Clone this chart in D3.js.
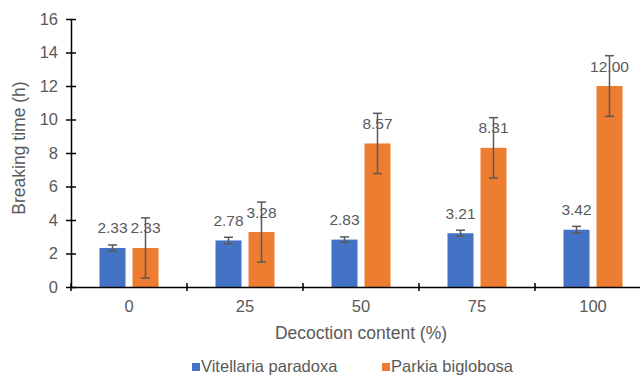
<!DOCTYPE html>
<html>
<head>
<meta charset="utf-8">
<script src="https://cdn.jsdelivr.net/npm/d3@7"></script>
<style>
  html, body { margin: 0; padding: 0; background: #fff; }
  svg { display: block; font-family: "Liberation Sans", Arial, sans-serif; }
</style>
</head>
<body>
<svg id="chart" width="640" height="375"></svg>
<script>
// Decoction content (%) categories
const categories = ["0", "25", "50", "75", "100"];
const seriesNames = ["Vitellaria paradoxa", "Parkia biglobosa"];
// Mean breaking time (h)
const vitellaria = [2.33, 2.78, 2.83, 3.21, 3.42];
const parkia = [2.33, 3.28, 8.57, 8.31, 12.00];
// Error bar half-widths (h)
const vitellariaErr = [0.18, 0.19, 0.16, 0.18, 0.20];
const parkiaErr = [1.80, 1.79, 1.80, 1.80, 1.81];
const yTicks = [0, 2, 4, 6, 8, 10, 12, 14, 16];
const colors = ["#4472C4", "#ED7D31"];

const svg = d3.select("#chart");
const textColor = "#595959";
const fontFamily = "Liberation Sans, Arial, sans-serif";

const x0 = d3.scaleBand().domain(categories).range([71, 651]).paddingInner(0).paddingOuter(0);
const y = d3.scaleLinear().domain([0, 16]).range([287, 19]);

const barW = 26, gap = 7;

const rows = categories.map((c, i) => ({
  cat: c,
  items: [
    { s: 0, v: vitellaria[i], e: vitellariaErr[i] },
    { s: 1, v: parkia[i], e: parkiaErr[i] }
  ]
}));

function barX(cat, s) {
  const center = x0(cat) + x0.bandwidth() / 2;
  return s === 0 ? center - gap / 2 - barW : center + gap / 2;
}

// bars
const g = svg.append("g");
rows.forEach(r => {
  r.items.forEach(d => {
    g.append("rect")
      .attr("x", barX(r.cat, d.s))
      .attr("y", y(d.v))
      .attr("width", barW)
      .attr("height", y(0) - y(d.v))
      .attr("fill", colors[d.s]);
  });
});

// value labels
rows.forEach(r => {
  r.items.forEach(d => {
    g.append("text")
      .attr("x", barX(r.cat, d.s) + barW / 2)
      .attr("y", y(d.v) - 14.5)
      .attr("text-anchor", "middle")
      .attr("fill", textColor)
      .attr("font-size", 15.5)
      .text(d.v.toFixed(2));
  });
});

// error bars
rows.forEach(r => {
  r.items.forEach(d => {
    const cx = barX(r.cat, d.s) + barW / 2;
    const top = y(d.v + d.e), bot = y(d.v - d.e);
    const eg = g.append("g").attr("stroke", "#595959").attr("stroke-width", 1.5);
    eg.append("line").attr("x1", cx).attr("x2", cx).attr("y1", top).attr("y2", bot);
    eg.append("line").attr("x1", cx - 4.5).attr("x2", cx + 4.5).attr("y1", top).attr("y2", top);
    eg.append("line").attr("x1", cx - 4.5).attr("x2", cx + 4.5).attr("y1", bot).attr("y2", bot);
  });
});

// y axis
const yAxis = svg.append("g").attr("transform", "translate(71,0)")
  .call(d3.axisLeft(y).tickValues(yTicks).tickSize(5).tickPadding(8).tickSizeOuter(0));
yAxis.select(".domain").attr("stroke", "#000").attr("stroke-width", 1.5);
yAxis.selectAll(".tick line").attr("x2", 5).attr("x1", -5).attr("stroke", "#000").attr("stroke-width", 1.5);
yAxis.selectAll(".tick text").attr("fill", textColor).attr("font-size", 16.5)
  .attr("font-family", fontFamily);

// x axis
const xAxis = svg.append("g").attr("transform", `translate(0,${y(0)})`)
  .call(d3.axisBottom(x0).tickSize(0).tickPadding(13).tickSizeOuter(0));
xAxis.select(".domain").attr("stroke", "#000").attr("stroke-width", 1.5);
xAxis.selectAll(".tick text").attr("fill", textColor).attr("font-size", 16.5)
  .attr("font-family", fontFamily);
// category boundary ticks
categories.forEach(c => {
  xAxis.append("line")
    .attr("x1", x0(c)).attr("x2", x0(c)).attr("y1", -4).attr("y2", 4)
    .attr("stroke", "#000").attr("stroke-width", 1.5);
});

// axis titles
svg.append("text")
  .attr("x", 361).attr("y", 339)
  .attr("text-anchor", "middle").attr("fill", textColor).attr("font-size", 17.5)
  .text("Decoction content (%)");
svg.append("text")
  .attr("transform", "translate(25,148) rotate(-90)")
  .attr("text-anchor", "middle").attr("fill", textColor).attr("font-size", 17.5)
  .text("Breaking time (h)");

// legend
const legendItems = [{ name: seriesNames[0], x: 192 }, { name: seriesNames[1], x: 382 }];
legendItems.forEach((d, i) => {
  svg.append("rect").attr("x", d.x).attr("y", 363).attr("width", 8).attr("height", 8).attr("fill", colors[i]);
  svg.append("text").attr("x", d.x + 9).attr("y", 372)
    .attr("fill", textColor).attr("font-size", 16.5).text(d.name);
});
</script>
</body>
</html>
